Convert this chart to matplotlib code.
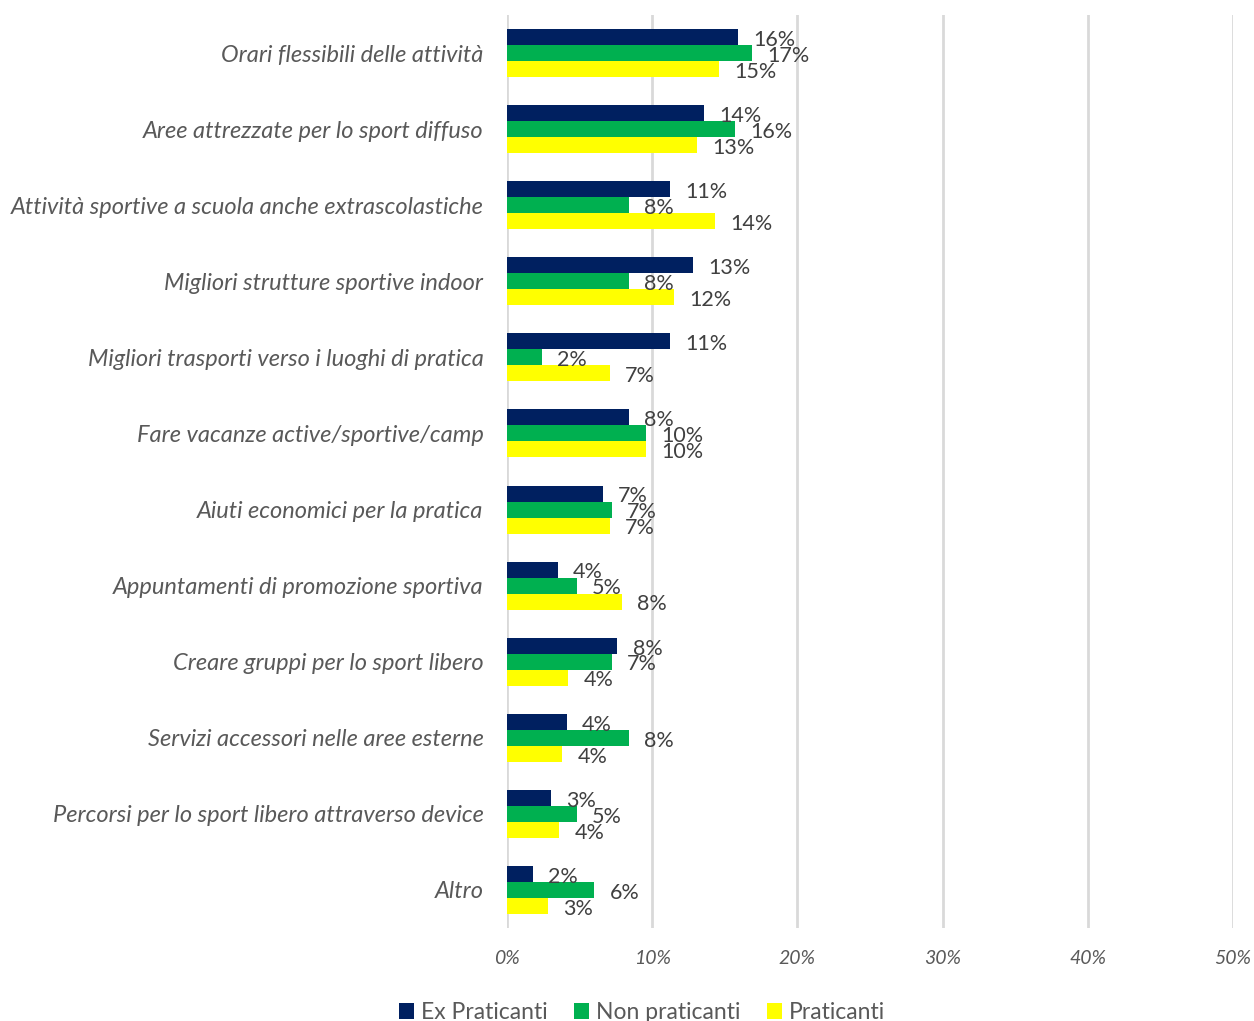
import numpy as np
import matplotlib.pyplot as plt
from matplotlib.ticker import FuncFormatter

categories = [
    "Orari flessibili delle attività",
    "Aree attrezzate per lo sport diffuso",
    "Attività sportive a scuola anche extrascolastiche",
    "Migliori strutture sportive indoor",
    "Migliori trasporti verso i luoghi di pratica",
    "Fare vacanze active/sportive/camp",
    "Aiuti economici per la pratica",
    "Appuntamenti di promozione sportiva",
    "Creare gruppi per lo sport libero",
    "Servizi accessori nelle aree esterne",
    "Percorsi per lo sport libero attraverso device",
    "Altro",
]
ex_praticanti = [15.9, 13.6, 11.2, 12.8, 11.2, 8.4, 6.6, 3.5, 7.6, 4.1, 3.0, 1.8]
non_praticanti = [16.9, 15.7, 8.4, 8.4, 2.4, 9.6, 7.2, 4.8, 7.2, 8.4, 4.8, 6.0]
praticanti = [14.6, 13.1, 14.3, 11.5, 7.1, 9.6, 7.1, 7.9, 4.2, 3.8, 3.6, 2.8]

series = [
    ("Ex Praticanti", ex_praticanti, "#002060"),
    ("Non praticanti", non_praticanti, "#00B050"),
    ("Praticanti", praticanti, "#FFFF00"),
]

plt.rcParams['font.family'] = ['Lato', 'DejaVu Sans']

fig = plt.figure(figsize=(12.54, 10.21), dpi=100)
ax = fig.add_axes([507 / 1254, 1 - 928 / 1021, 726 / 1254, 913 / 1021])

y = np.arange(len(categories))
h = 0.21
for i, (name, vals, col) in enumerate(series):
    pos = y + (i - 1) * h
    ax.barh(pos, vals, height=h, color=col, label=name, zorder=3)
    for p, v in zip(pos, vals):
        ax.annotate(f"{v:.0f}%", (v, p), xytext=(11, -2), textcoords="offset points",
                    va="center", ha="left", fontsize=15.5, color="#404040", zorder=4)

ax.set_xlim(0, 50)
ax.set_ylim(len(categories) - 0.5, -0.5)
ax.set_xticks(np.arange(0, 51, 10))
ax.xaxis.set_major_formatter(FuncFormatter(lambda v, _: f"{v:.0f}%"))
ax.set_yticks(y)
ax.set_yticklabels(categories, fontsize=17, style="italic", color="#595959")
for lab in ax.get_xticklabels():
    lab.set_style("italic")
    lab.set_fontsize(14)
    lab.set_color("#595959")
ax.tick_params(axis="both", length=0)
ax.tick_params(axis="y", pad=17)
ax.tick_params(axis="x", pad=16)
ax.grid(axis="x", color="#D9D9D9", linewidth=2, zorder=0)
for s in ax.spines.values():
    s.set_visible(False)

handles, labels = ax.get_legend_handles_labels()
fig.legend(handles, labels, loc="lower center", bbox_to_anchor=(0.512, -0.011), ncol=3,
           frameon=False, fontsize=16.5, handlelength=0.65, handleheight=0.65,
           handletextpad=0.3, columnspacing=1.15, labelcolor="#595959", borderaxespad=0)

fig.savefig("out.png", dpi=100)
